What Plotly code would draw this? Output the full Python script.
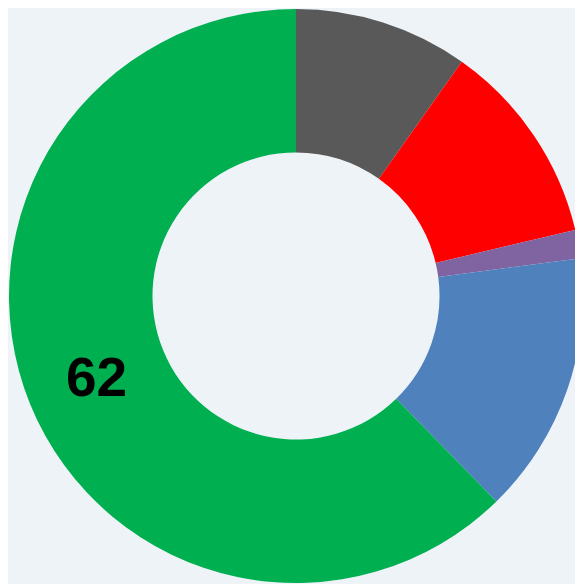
"""Donut chart: share by category."""
import plotly.graph_objects as go

# Data
categories = ["Gray", "Red", "Purple", "Blue", "Green"]
values = [9.8, 11.5, 1.6, 14.8, 62.3]
labels_shown = ["", "", "", "", "62"]
colors = ["#595959", "#FF0000", "#8064A2", "#4F81BD", "#00B050"]


def main() -> None:
    """Build the donut and write it out."""
    fig = go.Figure(
        go.Pie(
            labels=categories,
            values=values,
            text=labels_shown,
            textinfo="text",
            textposition="inside",
            insidetextorientation="horizontal",
            textfont={"family": "Liberation Sans", "size": 55, "color": "black", "weight": "bold"},
            hole=0.5,
            sort=False,
            direction="clockwise",
            rotation=0,
            marker={"colors": colors, "line": {"width": 0}},
            showlegend=False,
            hoverinfo="label+value",
        )
    )
    # page body adds an 8px margin, so the figure is a bit smaller than the window
    fig.update_layout(
        width=575,
        height=576,
        margin={"l": 1, "r": 0, "t": 0, "b": 0},
        paper_bgcolor="#eef3f8",
        plot_bgcolor="#eef3f8",
    )
    fig.write_html("out.html")


if __name__ == "__main__":
    main()
